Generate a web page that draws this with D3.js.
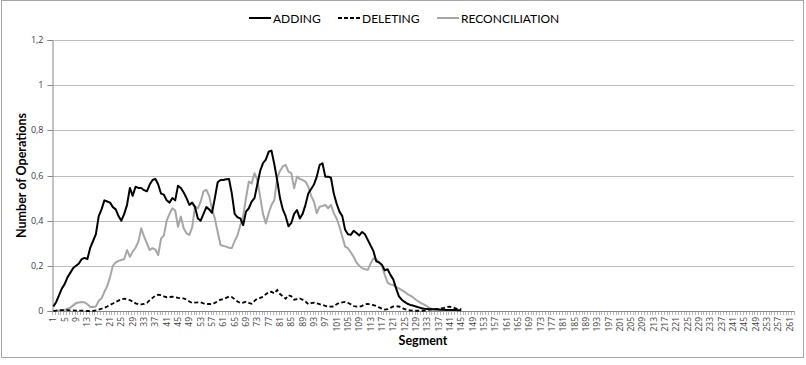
<!DOCTYPE html>
<html>
<head>
<meta charset="utf-8">
<script src="https://cdn.jsdelivr.net/npm/d3@7"></script>
<style>
  html, body { margin: 0; padding: 0; background: #fff; }
  svg { display: block; font-family: Lato, "Open Sans", sans-serif; }
</style>
</head>
<body>
<div id="container"></div>
<script>
// segments 1..262 on the category axis
const segments = d3.range(1, 263);
const xTickLabels = segments.filter(s => (s - 1) % 4 === 0);
const yTicks = [0, 0.2, 0.4, 0.6, 0.8, 1, 1.2];
const yTickLabels = ["0", "0,2", "0,4", "0,6", "0,8", "1", "1,2"];
const seriesNames = ["ADDING", "DELETING", "RECONCILIATION"];

// values per segment (segments 1..145)
const adding = [
  0.02, 0.04, 0.07, 0.10, 0.12, 0.15, 0.17, 0.19, 0.20, 0.21,
  0.23, 0.235, 0.23, 0.28, 0.31, 0.34, 0.42, 0.45, 0.49, 0.485,
  0.48, 0.46, 0.45, 0.42, 0.40, 0.43, 0.47, 0.545, 0.51, 0.55,
  0.545, 0.545, 0.535, 0.53, 0.56, 0.58, 0.585, 0.56, 0.52, 0.515,
  0.49, 0.48, 0.50, 0.49, 0.555, 0.545, 0.525, 0.50, 0.47, 0.48,
  0.46, 0.41, 0.40, 0.43, 0.46, 0.45, 0.435, 0.50, 0.57, 0.58,
  0.58, 0.583, 0.585, 0.52, 0.43, 0.415, 0.41, 0.38, 0.44, 0.455,
  0.484, 0.50, 0.56, 0.62, 0.655, 0.67, 0.705, 0.71, 0.65, 0.58,
  0.50, 0.45, 0.42, 0.375, 0.39, 0.43, 0.447, 0.41, 0.43, 0.47,
  0.52, 0.54, 0.56, 0.595, 0.647, 0.654, 0.595, 0.595, 0.59, 0.52,
  0.475, 0.44, 0.42, 0.36, 0.34, 0.337, 0.355, 0.345, 0.335, 0.35,
  0.34, 0.315, 0.29, 0.265, 0.22, 0.215, 0.205, 0.18, 0.185, 0.16,
  0.14, 0.10, 0.065, 0.05, 0.04, 0.032, 0.027, 0.024, 0.02, 0.016,
  0.012, 0.01, 0.009, 0.008, 0.008, 0.008, 0.007, 0.006, 0.005, 0.004,
  0.004, 0.004, 0.004, 0.003, 0.003
];
const deleting = [
  0, 0.002, 0.003, 0.004, 0.004, 0.004, 0.003, 0.003, 0.002, 0.002,
  0.002, 0.001, 0, 0, 0.001, 0.003, 0.006, 0.01, 0.014, 0.02,
  0.027, 0.033, 0.04, 0.046, 0.052, 0.055, 0.052, 0.048, 0.042, 0.034,
  0.03, 0.029, 0.031, 0.036, 0.048, 0.058, 0.068, 0.072, 0.07, 0.065,
  0.061, 0.062, 0.063, 0.061, 0.058, 0.056, 0.056, 0.05, 0.042, 0.036,
  0.037, 0.038, 0.038, 0.034, 0.031, 0.031, 0.03, 0.036, 0.043, 0.05,
  0.052, 0.058, 0.064, 0.062, 0.052, 0.042, 0.035, 0.037, 0.041, 0.036,
  0.032, 0.045, 0.055, 0.058, 0.063, 0.074, 0.083, 0.085, 0.078, 0.093,
  0.075, 0.065, 0.054, 0.07, 0.065, 0.05, 0.053, 0.056, 0.05, 0.042,
  0.03, 0.035, 0.037, 0.034, 0.03, 0.027, 0.023, 0.019, 0.019, 0.02,
  0.03, 0.036, 0.038, 0.04, 0.036, 0.03, 0.022, 0.019, 0.019, 0.023,
  0.03, 0.031, 0.028, 0.026, 0.022, 0.016, 0.01, 0.006, 0.008, 0.014,
  0.02, 0.021, 0.02, 0.015, 0.008, 0.005, 0.003, 0.001, 0.001, 0.001,
  0.001, 0.002, 0.004, 0.006, 0.008, 0.008, 0.009, 0.012, 0.014, 0.018,
  0.019, 0.016, 0.012, 0.009, 0.008
];
const reconciliation = [
  0, 0, 0.002, 0.003, 0.005, 0.01, 0.015, 0.025, 0.035, 0.038,
  0.04, 0.038, 0.03, 0.018, 0.018, 0.02, 0.045, 0.056, 0.085, 0.11,
  0.15, 0.2, 0.215, 0.222, 0.226, 0.23, 0.27, 0.24, 0.263, 0.28,
  0.307, 0.366, 0.33, 0.30, 0.27, 0.278, 0.272, 0.248, 0.32, 0.335,
  0.40, 0.43, 0.455, 0.445, 0.373, 0.418, 0.366, 0.344, 0.337, 0.37,
  0.462, 0.455, 0.484, 0.53, 0.537, 0.51, 0.45, 0.41, 0.35, 0.292,
  0.288, 0.285, 0.28, 0.278, 0.31, 0.335, 0.38, 0.42, 0.50, 0.573,
  0.565, 0.61, 0.58, 0.506, 0.43, 0.388, 0.433, 0.47, 0.49, 0.588,
  0.62, 0.64, 0.647, 0.617, 0.61, 0.543, 0.595, 0.585, 0.58, 0.573,
  0.55, 0.51, 0.484, 0.433, 0.462, 0.465, 0.47, 0.455, 0.47, 0.433,
  0.41, 0.373, 0.33, 0.285, 0.278, 0.26, 0.24, 0.215, 0.20, 0.19,
  0.185, 0.182, 0.21, 0.233, 0.228, 0.215, 0.20, 0.16, 0.125, 0.118,
  0.115, 0.105, 0.10, 0.092, 0.085, 0.075, 0.068, 0.06, 0.05, 0.041,
  0.034, 0.028, 0.02, 0.012, 0.008, 0.004, 0.003, 0.002, 0.001, 0,
  0, 0, 0, 0, 0
];

const W = 806, H = 365;
const margin = { top: 40, right: 12, bottom: 54, left: 52 };
const plotRight = 794, plotBottom = 311;

const svg = d3.select("#container").append("svg")
  .attr("width", W)
  .attr("height", H);

// outer chart border
svg.append("rect")
  .attr("x", 1.5).attr("y", 0.5)
  .attr("width", 802).attr("height", 357)
  .attr("fill", "#fff")
  .attr("stroke", "#a6a6a6")
  .attr("stroke-width", 1);

const x = d3.scaleBand()
  .domain(segments)
  .range([margin.left, plotRight])
  .paddingInner(0).paddingOuter(0);

const y = d3.scaleLinear()
  .domain([0, 1.2])
  .range([plotBottom, margin.top]);

const cx = d => x(d) + x.bandwidth() / 2;

// gridlines
svg.append("g")
  .selectAll("line")
  .data(yTicks.filter(t => t > 0))
  .join("line")
  .attr("x1", margin.left).attr("x2", plotRight)
  .attr("y1", d => Math.round(y(d)) + 0.5).attr("y2", d => Math.round(y(d)) + 0.5)
  .attr("stroke", "#bfbfbf")
  .attr("stroke-width", 1);

// y axis
const yAxis = svg.append("g")
  .attr("transform", `translate(${margin.left + 0.5},0)`)
  .call(d3.axisLeft(y).tickValues(yTicks).tickSize(5).tickPadding(4)
    .tickFormat((d, i) => yTickLabels[i]));
yAxis.select(".domain").attr("stroke", "#868686");
yAxis.selectAll(".tick line").attr("stroke", "#868686");
yAxis.selectAll(".tick text")
  .attr("fill", "#404040")
  .style("font-size", "9px")
  .style("font-family", "'Open Sans', sans-serif");
yAxis.selectAll(".tick").attr("transform", d => `translate(0,${Math.round(y(d)) + 0.5})`);

// x axis baseline
svg.append("line")
  .attr("x1", margin.left).attr("x2", plotRight)
  .attr("y1", plotBottom + 0.5).attr("y2", plotBottom + 0.5)
  .attr("stroke", "#868686");

// minor tick marks between categories
svg.append("g")
  .selectAll("line")
  .data(segments.concat([null]))
  .join("line")
  .attr("x1", d => Math.round(d === null ? plotRight : x(d)) + 0.5)
  .attr("x2", d => Math.round(d === null ? plotRight : x(d)) + 0.5)
  .attr("y1", plotBottom)
  .attr("y2", plotBottom + 4)
  .attr("stroke", "#868686")
  .attr("stroke-width", 0.6);

// x tick labels, rotated
svg.append("g")
  .selectAll("text")
  .data(xTickLabels)
  .join("text")
  .attr("transform", d => `translate(${cx(d) + 3},${plotBottom + 6}) rotate(-90)`)
  .attr("text-anchor", "end")
  .attr("fill", "#404040")
  .style("font-size", "8.5px")
  .style("font-family", "'Open Sans', sans-serif")
  .text(d => d);

// series lines
const line = d3.line()
  .x((d, i) => cx(segments[i]))
  .y(d => y(d));

svg.append("path")
  .datum(reconciliation)
  .attr("d", line)
  .attr("fill", "none")
  .attr("stroke", "#a6a6a6")
  .attr("stroke-width", 2)
  .attr("stroke-linejoin", "round");

svg.append("path")
  .datum(deleting)
  .attr("d", line)
  .attr("fill", "none")
  .attr("stroke", "#000")
  .attr("stroke-width", 1.8)
  .attr("stroke-dasharray", "4,2.5");

svg.append("path")
  .datum(adding)
  .attr("d", line)
  .attr("fill", "none")
  .attr("stroke", "#000")
  .attr("stroke-width", 2)
  .attr("stroke-linejoin", "round");

// axis titles
svg.append("text")
  .attr("transform", `translate(26,${(margin.top + plotBottom) / 2}) rotate(-90)`)
  .attr("text-anchor", "middle")
  .style("font-size", "12.5px")
  .style("font-weight", "bold")
  .text("Number of Operations");

svg.append("text")
  .attr("x", (margin.left + plotRight) / 2)
  .attr("y", 345)
  .attr("text-anchor", "middle")
  .style("font-size", "12.5px")
  .style("font-weight", "bold")
  .text("Segment");

// legend
const legendItems = [
  { name: seriesNames[0], x0: 249, stroke: "#000", dash: null },
  { name: seriesNames[1], x0: 338, stroke: "#000", dash: "4,2" },
  { name: seriesNames[2], x0: 437, stroke: "#a6a6a6", dash: null }
];
const lg = svg.append("g").attr("transform", "translate(0,18)");
legendItems.forEach(it => {
  lg.append("line")
    .attr("x1", it.x0).attr("x2", it.x0 + 22)
    .attr("y1", 0).attr("y2", 0)
    .attr("stroke", it.stroke)
    .attr("stroke-width", 2)
    .attr("stroke-dasharray", it.dash);
  lg.append("text")
    .attr("x", it.x0 + 24)
    .attr("y", 4.5)
    .style("font-size", "12px")
    .text(it.name);
});
</script>
</body>
</html>
